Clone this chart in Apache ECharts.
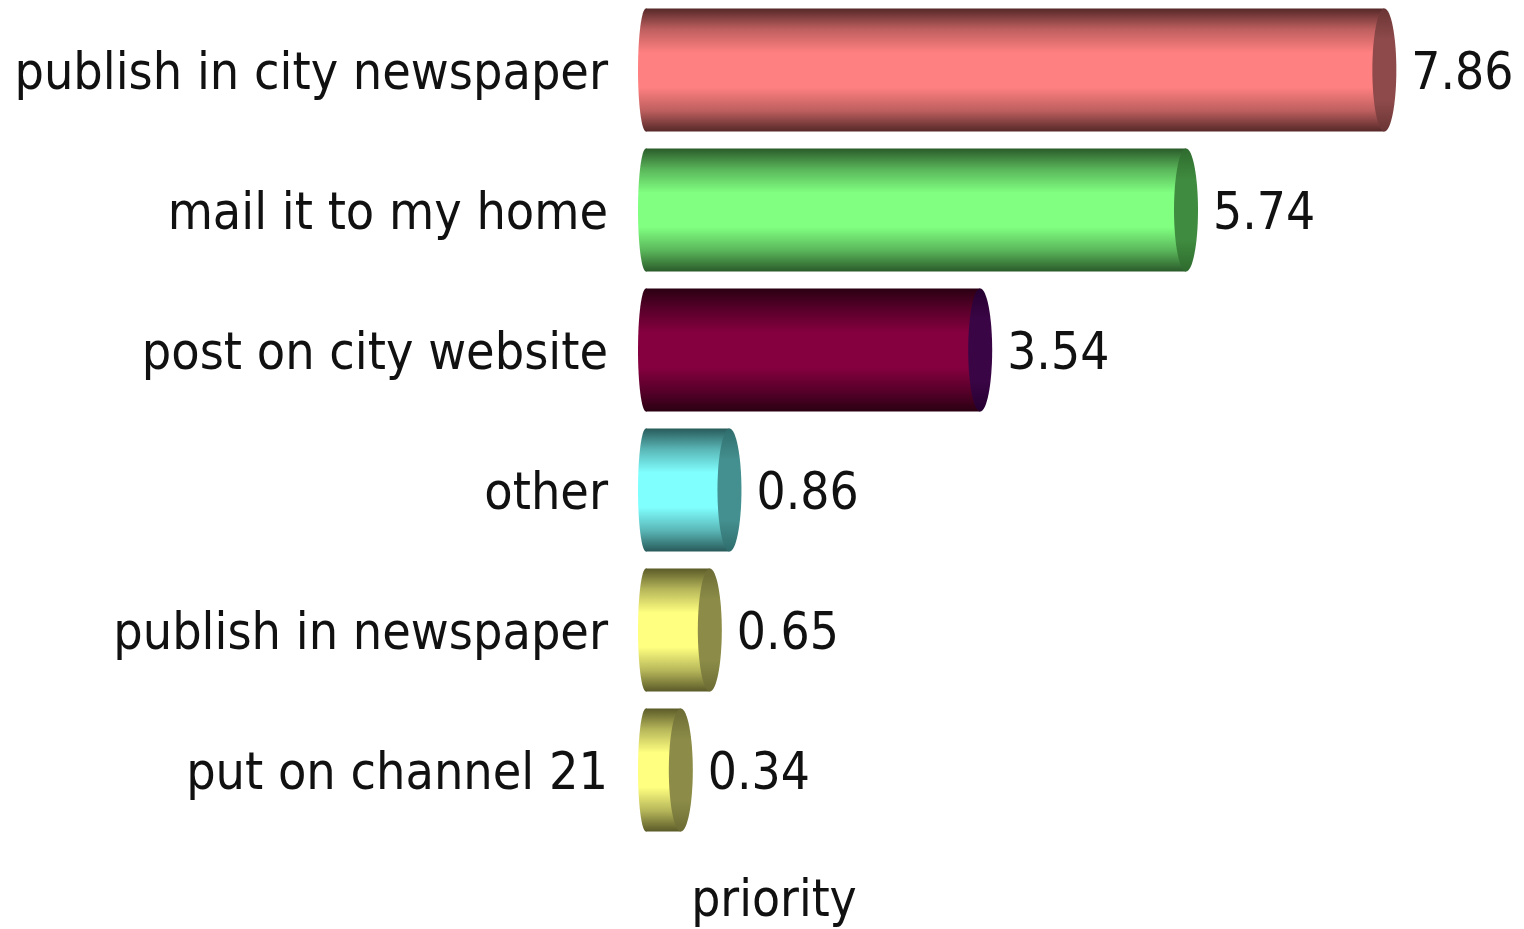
<!DOCTYPE html>
<html>
<head>
<meta charset="utf-8">
<script src="https://cdn.jsdelivr.net/npm/echarts@6/dist/echarts.min.js"></script>
<style>
html,body{margin:0;padding:0;background:#fff;}
#chart{width:1524px;height:929px;}
</style>
</head>
<body>
<div id="chart"></div>
<script>
const categories = ['publish in city newspaper', 'mail it to my home', 'post on city website', 'other', 'publish in newspaper', 'put on channel 21'];
const values = [7.86, 5.74, 3.54, 0.86, 0.65, 0.34];
const axisName = 'priority';

// styles (kept apart from data)
const bodyColors = ['#FF8080', '#80FF80', '#85003F', '#80FFFF', '#FFFF80', '#FFFF80'];
const edgeColors = ['#552828', '#2A5A2A', '#2A0012', '#285A5A', '#5A5A28', '#5A5A28'];
const midColors  = ['#BE5F5F', '#5AB65A', '#58002A', '#5AB6B6', '#B6B65A', '#B6B65A'];
const capColors  = ['#8E4A4A', '#3F8B3F', '#3A0545', '#448F8F', '#8C8C48', '#8C8C48'];
const capEdge    = ['#6A3434', '#2E6A2E', '#250030', '#2F6C6C', '#6A6A33', '#6A6A33'];

const FONT = '"DejaVu Sans Condensed", "DejaVu Sans", sans-serif';
const chart = echarts.init(document.getElementById('chart'));

function bodyGrad(i) {
  return {
    type: 'linear', x: 0, y: 0, x2: 0, y2: 1,
    colorStops: [
      {offset: 0, color: edgeColors[i]},
      {offset: 0.17, color: midColors[i]},
      {offset: 0.36, color: bodyColors[i]},
      {offset: 0.64, color: bodyColors[i]},
      {offset: 0.83, color: midColors[i]},
      {offset: 1, color: edgeColors[i]}
    ]
  };
}
function capGrad(i) {
  return {
    type: 'linear', x: 0, y: 0, x2: 0, y2: 1,
    colorStops: [
      {offset: 0, color: capEdge[i]},
      {offset: 0.25, color: capColors[i]},
      {offset: 0.75, color: capColors[i]},
      {offset: 1, color: capEdge[i]}
    ]
  };
}

function renderItem(params, api) {
  const v = api.value(0);
  const c = api.value(1);
  const i = params.dataIndex;
  const start = api.coord([0, c]);
  const end = api.coord([v, c]);
  const band = api.size([0, 1])[1];
  const h = band * 0.88;
  const rx = 12;
  const lx = start[0] - 3;
  const cy = start[1];
  const top = cy - h / 2;
  return {
    type: 'group',
    children: [
      {type: 'ellipse', shape: {cx: lx, cy: cy, rx: 8, ry: h / 2}, style: {fill: bodyGrad(i)}},
      {type: 'rect', shape: {x: lx, y: top, width: end[0] - lx, height: h}, style: {fill: bodyGrad(i)}},
      {type: 'ellipse', shape: {cx: end[0], cy: cy, rx: rx, ry: h / 2}, style: {fill: capGrad(i)}},
      {type: 'text', x: end[0] + rx + 15, y: cy + 6,
       style: {text: v.toFixed(2), font: '51px ' + FONT, fill: '#111', align: 'left', verticalAlign: 'middle'}}
    ]
  };
}

chart.setOption({
  backgroundColor: '#ffffff',
  animation: false,
  grid: {left: 649, width: 842, top: 0, height: 840},
  xAxis: {
    type: 'value', min: 0, max: 9, show: false
  },
  yAxis: {
    type: 'category', data: categories, inverse: true,
    axisLine: {show: false}, axisTick: {show: false}, splitLine: {show: false},
    axisLabel: {margin: 41, fontSize: 51.6, fontFamily: FONT, color: '#111',
                verticalAlign: 'top', lineHeight: 12}
  },
  graphic: [{
    type: 'text', x: 774, y: 903,
    style: {text: axisName, font: '51px ' + FONT, fill: '#111', align: 'center', verticalAlign: 'middle',
            textAlign: 'center', textVerticalAlign: 'middle'}
  }],
  series: [{
    type: 'custom',
    renderItem: renderItem,
    data: values.map((v, k) => [v, k]),
    encode: {x: 0, y: 1}
  }]
});
</script>
</body>
</html>
